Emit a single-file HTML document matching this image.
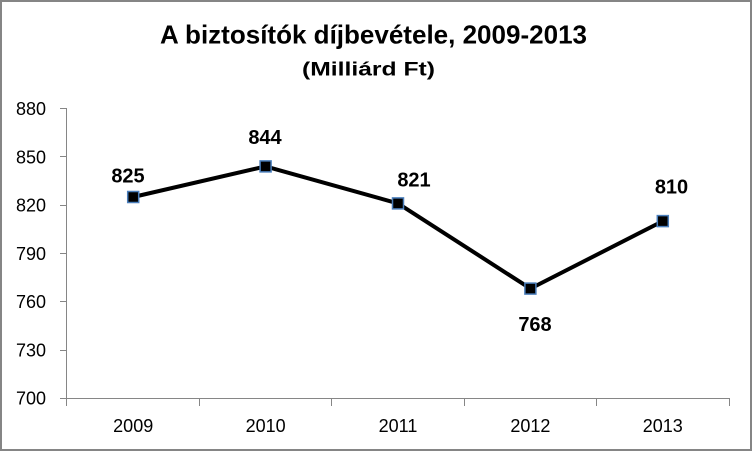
<!DOCTYPE html>
<html>
<head>
<meta charset="utf-8">
<style>
  html, body { margin: 0; padding: 0; background: #fff; }
  svg { display: block; }
  text { font-family: "Liberation Sans", sans-serif; fill: #000; }
</style>
</head>
<body>
<svg width="753" height="451" viewBox="0 0 753 451" xmlns="http://www.w3.org/2000/svg">
  <rect x="0" y="0" width="753" height="451" fill="#fff"/>
  <rect x="1" y="1" width="750" height="449" fill="none" stroke="#858585" stroke-width="2"/>

  <!-- Title -->
  <text x="373.5" y="43.3" font-size="26" font-weight="bold" text-anchor="middle" textLength="427" lengthAdjust="spacingAndGlyphs">A biztosítók díjbevétele, 2009-2013</text>
  <text x="368.5" y="75.7" font-size="19" font-weight="bold" text-anchor="middle" textLength="133" lengthAdjust="spacingAndGlyphs">(Milliárd Ft)</text>

  <!-- Axes -->
  <g stroke="#868686" stroke-width="1" fill="none" shape-rendering="crispEdges">
    <line x1="66.5" y1="108.5" x2="66.5" y2="398.5"/>
    <line x1="66.5" y1="398.5" x2="729.5" y2="398.5"/>
    <!-- y ticks -->
    <line x1="60" y1="108.5" x2="67" y2="108.5"/>
    <line x1="60" y1="156.5" x2="67" y2="156.5"/>
    <line x1="60" y1="205.5" x2="67" y2="205.5"/>
    <line x1="60" y1="253.5" x2="67" y2="253.5"/>
    <line x1="60" y1="301.5" x2="67" y2="301.5"/>
    <line x1="60" y1="350.5" x2="67" y2="350.5"/>
    <line x1="60" y1="398.5" x2="67" y2="398.5"/>
    <!-- x ticks -->
    <line x1="66.5" y1="398" x2="66.5" y2="406"/>
    <line x1="199.5" y1="398" x2="199.5" y2="406"/>
    <line x1="331.5" y1="398" x2="331.5" y2="406"/>
    <line x1="464.5" y1="398" x2="464.5" y2="406"/>
    <line x1="596.5" y1="398" x2="596.5" y2="406"/>
    <line x1="729.5" y1="398" x2="729.5" y2="406"/>
  </g>

  <!-- Y labels -->
  <g font-size="18" text-anchor="end">
    <text x="46" y="115">880</text>
    <text x="46" y="163.3">850</text>
    <text x="46" y="211.5">820</text>
    <text x="46" y="259.8">790</text>
    <text x="46" y="308">760</text>
    <text x="46" y="356.3">730</text>
    <text x="46" y="404.5">700</text>
  </g>

  <!-- X labels -->
  <g font-size="18" text-anchor="middle">
    <text x="133.2" y="432">2009</text>
    <text x="265.6" y="432">2010</text>
    <text x="398" y="432">2011</text>
    <text x="530.4" y="432">2012</text>
    <text x="662.8" y="432">2013</text>
  </g>

  <!-- Series line -->
  <polyline points="133.2,197 265.6,166.4 398,203.4 530.4,288.6 662.8,221.1" fill="none" stroke="#000" stroke-width="4" stroke-linejoin="round"/>

  <!-- Markers -->
  <g fill="#000" stroke="#4a7ebb" stroke-width="1.5">
    <rect x="127.7" y="191.5" width="11" height="11"/>
    <rect x="260.1" y="160.9" width="11" height="11"/>
    <rect x="392.5" y="197.9" width="11" height="11"/>
    <rect x="524.9" y="283.1" width="11" height="11"/>
    <rect x="657.3" y="215.6" width="11" height="11"/>
  </g>

  <!-- Data labels -->
  <g font-size="20" font-weight="bold" text-anchor="middle">
    <text x="128" y="182.7">825</text>
    <text x="265" y="144">844</text>
    <text x="414" y="186.7">821</text>
    <text x="535" y="331">768</text>
    <text x="671.5" y="193.3">810</text>
  </g>
</svg>
</body>
</html>
